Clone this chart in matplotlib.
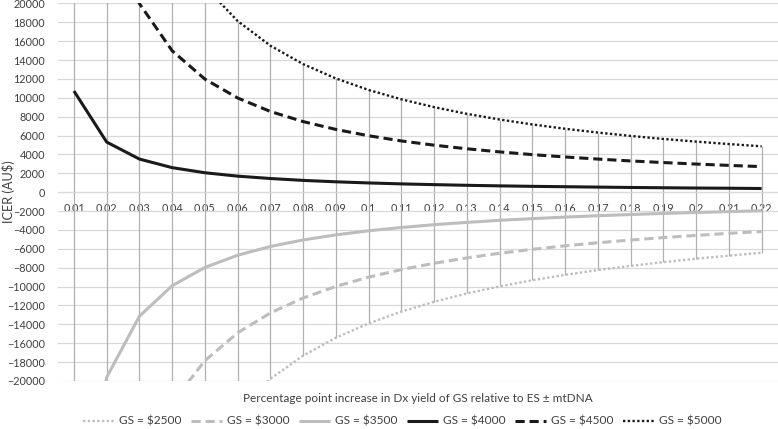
import matplotlib
matplotlib.use("Agg")
import matplotlib.pyplot as plt
import numpy as np

plt.rcParams['font.family'] = ['Lato', 'DejaVu Sans']

# x categories: percentage point increase in Dx yield
categories = ['0.01', '0.02', '0.03', '0.04', '0.05', '0.06', '0.07', '0.08', '0.09', '0.1', '0.11',
              '0.12', '0.13', '0.14', '0.15', '0.16', '0.17', '0.18', '0.19', '0.2', '0.21', '0.22']

# ICER (AU$) per GS price (off-scale values estimated)
gs_2500 = [-137200, -68700, -45860, -34450, -27600, -23030, -19770, -17320, -15420, -13900, -12650,
           -11610, -10730, -9980, -9330, -8760, -8250, -7810, -7410, -7050, -6720, -6420]
gs_3000 = [-88650, -44400, -29650, -22280, -17850, -14900, -12790, -11210, -9980, -9000, -8200,
           -7530, -6960, -6470, -6050, -5680, -5360, -5070, -4810, -4580, -4360, -4170]
gs_3500 = [-39010, -19610, -13140, -9910, -7970, -6680, -5750, -5060, -4520, -4090, -3740,
           -3440, -3200, -2980, -2800, -2640, -2490, -2370, -2250, -2150, -2060, -1970]
gs_4000 = [10720, 5310, 3510, 2600, 2060, 1700, 1450, 1250, 1100, 980, 880,
           800, 730, 670, 620, 580, 540, 500, 470, 440, 420, 390]
gs_4500 = [59980, 29980, 19980, 14980, 11980, 9980, 8550, 7480, 6650, 5980, 5430,
           4980, 4600, 4270, 3980, 3730, 3510, 3310, 3140, 2980, 2840, 2710]
gs_5000 = [109380, 54630, 36380, 27260, 21780, 18130, 15520, 13570, 12050, 10830, 9840,
           9010, 8300, 7700, 7180, 6720, 6320, 5960, 5640, 5360, 5100, 4860]

series = [
    ('GS = $2500', gs_2500, '#bdbdbd', (0, (1, 1))),
    ('GS = $3000', gs_3000, '#bdbdbd', (0, (3, 1.6))),
    ('GS = $3500', gs_3500, '#bdbdbd', '-'),
    ('GS = $4000', gs_4000, '#1a1a1a', '-'),
    ('GS = $4500', gs_4500, '#1a1a1a', (0, (3, 1.6))),
    ('GS = $5000', gs_5000, '#1a1a1a', (0, (1, 1))),
]

fig = plt.figure(figsize=(7.78, 4.29), dpi=100)
ax = fig.add_axes([0.074, 0.112, 0.926, 0.880])

x = np.arange(len(categories))

# high-low lines between series at each category
allv = np.array([s[1] for s in series])
ax.vlines(x, allv.min(axis=0), allv.max(axis=0), color='#b0b0b0', lw=0.9, zorder=1)

for label, vals, color, ls in series:
    ax.plot(x, vals, color=color, linestyle=ls, lw=2.2 if ls != (0, (1, 1)) else 1.7,
            label=label, zorder=3, solid_capstyle='butt', dash_capstyle='butt')

ax.set_xlim(-0.5, len(categories) - 0.5)
ax.set_ylim(-20000, 20000)
ax.set_yticks(np.arange(-20000, 20001, 2000))
ax.yaxis.grid(True, color='#d9d9d9', lw=0.9)
ax.set_axisbelow(True)

ax.set_xticks(x)
ax.set_xticklabels(categories)
for side in ['top', 'right', 'left']:
    ax.spines[side].set_visible(False)
ax.spines['bottom'].set_position(('data', 0))
ax.spines['bottom'].set_color('#d9d9d9')
ax.tick_params(axis='both', length=0, labelsize=7.8, colors='#404040')
ax.tick_params(axis='x', pad=7.5)
ax.tick_params(axis='y', pad=9)

fig.text(0.011, 0.553, 'ICER (AU$)', rotation=90, ha='center', va='center',
         fontsize=9.2, color='#404040')
fig.text(0.537, 0.072, 'Percentage point increase in Dx yield of GS relative to ES \u00b1 mtDNA',
         ha='center', va='center', fontsize=8.5, color='#404040')

leg = fig.legend(loc='center', bbox_to_anchor=(0.517, 0.018), ncol=6, frameon=False,
                 fontsize=8.6, handlelength=2.6, handletextpad=0.45, columnspacing=0.75)
for t in leg.get_texts():
    t.set_color('#404040')

fig.savefig('out.png', dpi=100)
